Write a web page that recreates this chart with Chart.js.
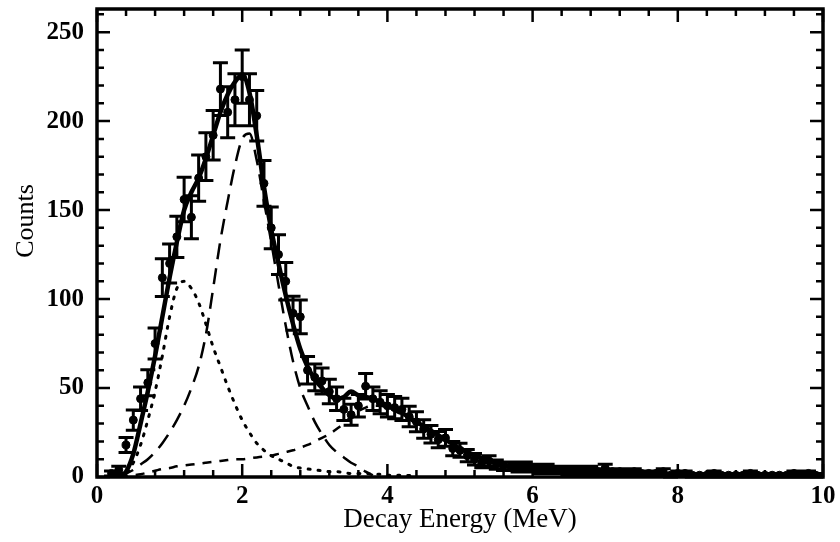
<!DOCTYPE html>
<html>
<head>
<meta charset="utf-8">
<script src="https://cdn.jsdelivr.net/npm/chart.js@4.4.0/dist/chart.umd.min.js"></script>
<style>
  html, body { margin: 0; padding: 0; background: #fff; }
  #wrap { width: 840px; height: 542px; }
</style>
</head>
<body>
<div id="wrap"><canvas id="myChart" width="840" height="542"></canvas></div>
<script>
// measured spectrum (0.1 MeV bins)
const energies = [0.2, 0.3, 0.4, 0.5, 0.6, 0.7, 0.8, 0.9, 1.0, 1.1, 1.2, 1.3, 1.4, 1.5, 1.6, 1.7, 1.8, 1.9, 2.0,
  2.1, 2.2, 2.3, 2.4, 2.5, 2.6, 2.7, 2.8, 2.9, 3.0, 3.1, 3.2, 3.3, 3.4, 3.5, 3.6, 3.7, 3.8, 3.9, 4.0,
  4.1, 4.2, 4.3, 4.4, 4.5, 4.6, 4.7, 4.8, 4.9, 5.0, 5.1, 5.2, 5.3, 5.4, 5.5, 5.6, 5.7, 5.8, 5.9, 6.0,
  6.1, 6.2, 6.3, 6.4, 6.5, 6.6, 6.7, 6.8, 6.9, 7.0, 7.1, 7.2, 7.3, 7.4, 7.5, 7.6, 7.7, 7.8, 7.9, 8.0,
  8.1, 8.2, 8.3, 8.4, 8.5, 8.6, 8.7, 8.8, 8.9, 9.0, 9.1, 9.2, 9.3, 9.4, 9.5, 9.6, 9.7, 9.8, 9.9];
const counts = [2, 4, 18, 32, 44, 53, 75, 112, 120, 135, 156, 146, 168, 180, 192, 218, 205, 212, 225,
  212, 203, 165, 140, 125, 110, 92, 90, 60, 56, 54, 48, 44, 38, 35, 40, 51, 44, 42, 40,
  39, 38, 34, 31, 27, 24, 21, 22, 16, 15, 12, 10, 8, 9, 7, 6, 6, 5, 6, 5,
  4, 5, 4, 4, 3, 4, 3, 4, 3, 5, 3, 3, 2, 3, 2, 2, 2, 3, 1, 2,
  2, 1, 1, 1, 2, 1, 1, 1, 1, 2, 1, 1, 1, 1, 1, 2, 1, 2, 1];
const countErrors = [1.4, 2, 4.2, 5.7, 6.6, 7.3, 8.7, 10.6, 11, 11.6, 12.5, 12.1, 13, 13.4, 13.9, 14.8, 14.3, 14.6, 15,
  14.6, 14.2, 12.8, 11.8, 11.2, 10.5, 9.6, 9.5, 7.7, 7.5, 7.3, 6.9, 6.6, 6.2, 5.9, 6.3, 7.1, 6.6, 6.5, 6.3,
  6.2, 6.2, 5.8, 5.6, 5.2, 4.9, 4.6, 4.7, 4, 3.9, 3.5, 3.2, 2.8, 3, 2.6, 2.4, 2.4, 2.2, 2.4, 2.2,
  2, 2.2, 2, 2, 1.7, 2, 1.7, 2, 1.7, 2.2, 1.7, 1.7, 1.4, 1.7, 1.4, 1.4, 1.4, 1.7, 1, 1.4,
  1.4, 1, 1, 1, 1.4, 1, 1, 1, 1, 1.4, 1, 1, 1, 1, 1, 1.4, 1, 1.4, 1];

// fit curves, sampled on a common energy grid
const fitEnergies = [0.3, 0.4, 0.5, 0.6, 0.7, 0.8, 0.9, 1.0, 1.1, 1.2, 1.3, 1.4, 1.5, 1.6, 1.7, 1.8, 1.9, 2.0,
  2.1, 2.2, 2.3, 2.4, 2.5, 2.6, 2.7, 2.8, 2.9, 3.0, 3.1, 3.2, 3.3, 3.4, 3.5, 3.6, 3.7, 3.8, 3.9, 4.0,
  4.2, 4.4, 4.6, 4.8, 5.0, 5.5, 6.0, 7.0, 8.0, 9.0, 10.0];
const totalFit = [0, 3, 13, 30, 48, 68, 90, 112, 132, 150, 160, 168, 179, 192, 205, 215, 222, 226,
  216, 192, 163, 139, 120, 102, 86, 72, 62, 55, 50, 46, 44, 45, 48, 46, 45, 44, 42, 40,
  36, 31, 26, 21, 16, 8, 4, 2, 1, 0.6, 0.4];
const peakTwoMeV = [0, 2, 4, 7, 10, 14, 19, 25, 32, 40, 50, 62, 80, 106, 133, 155, 175, 190,
  193, 178, 155, 132, 108, 85, 65, 50, 40, 31, 24, 18, 14, 11, 8, 6, 3, 1, null, null,
  null, null, null, null, null, null, null, null, null, null, null];
const peakOneMeV = [0, 2, 8, 18, 32, 48, 68, 90, 106, 110, 106, 98, 86, 73, 62, 51, 41, 32,
  25, 19, 15, 12, 10, 8, 6, 5, 4.5, 4, 3.5, 3, 3, 2.5, 2, 2, 2, 1.5, 1.5, 1,
  1, 0.5, null, null, null, null, null, null, null, null, null];
const broadComponent = [0, 0.5, 1, 1.5, 2.5, 3.5, 4.5, 5, 6, 6.5, 7, 7.5, 8, 8.5, 9, 9.5, 10, 10,
  10.5, 11, 11.5, 12, 13, 14, 15, 16.5, 18, 20, 22, 24, 27, 30, 34, 37, 39, 40, 40, 39,
  35, 30, 25, 20, 16, 8, 4, 2, 1, 0.6, 0.4];

const xTicks = [0, 2, 4, 6, 8, 10];
const yTicks = [0, 50, 100, 150, 200, 250];
const xMinorStep = 0.4;
const yMinorStep = 10;
const yMax = 263;

function pairs(xs, ys) {
  return xs.map((x, i) => ({x: x, y: ys[i]}));
}

const errorBars = {
  id: 'errorBars',
  afterDatasetsDraw(chart) {
    const ctx = chart.ctx;
    const x = chart.scales.x;
    const y = chart.scales.y;
    ctx.save();
    ctx.strokeStyle = '#000';
    ctx.lineWidth = 3;
    ctx.beginPath();
    for (let i = 0; i < energies.length; i++) {
      const px = x.getPixelForValue(energies[i]);
      const top = y.getPixelForValue(Math.min(counts[i] + countErrors[i], yMax));
      const bot = y.getPixelForValue(Math.max(counts[i] - countErrors[i], 0));
      ctx.moveTo(px, top); ctx.lineTo(px, bot);
      ctx.moveTo(px - 7.5, top); ctx.lineTo(px + 7.5, top);
      ctx.moveTo(px - 7.5, bot); ctx.lineTo(px + 7.5, bot);
    }
    ctx.stroke();
    ctx.restore();
  }
};

const frameAndTicks = {
  id: 'frameAndTicks',
  afterDraw(chart) {
    const ctx = chart.ctx;
    const a = chart.chartArea;
    const x = chart.scales.x;
    const y = chart.scales.y;
    ctx.save();
    ctx.strokeStyle = '#000';
    ctx.lineWidth = 3.5;
    ctx.strokeRect(a.left, a.top, a.right - a.left, a.bottom - a.top);
    ctx.lineWidth = 2.5;
    ctx.beginPath();
    for (let i = 0; i * xMinorStep <= 10.001; i++) {
      const px = x.getPixelForValue(i * xMinorStep);
      const len = i % 5 === 0 ? 13 : 7;
      ctx.moveTo(px, a.bottom); ctx.lineTo(px, a.bottom - len);
      ctx.moveTo(px, a.top); ctx.lineTo(px, a.top + len);
    }
    for (let i = 0; i * yMinorStep <= yMax; i++) {
      const py = y.getPixelForValue(i * yMinorStep);
      const len = i % 5 === 0 ? 13 : 7;
      ctx.moveTo(a.left, py); ctx.lineTo(a.left + len, py);
      ctx.moveTo(a.right, py); ctx.lineTo(a.right - len, py);
    }
    ctx.stroke();
    // y axis title
    ctx.translate(26, 221);
    ctx.rotate(-Math.PI / 2);
    ctx.fillStyle = '#000';
    ctx.font = '26px "Liberation Serif", serif';
    ctx.textAlign = 'center';
    ctx.textBaseline = 'middle';
    ctx.fillText('Counts', 0, 0);
    ctx.restore();
  }
};

const ctx = document.getElementById('myChart').getContext('2d');

new Chart(ctx, {
  type: 'scatter',
  data: {
    datasets: [
      {
        label: 'Data',
        data: pairs(energies, counts),
        backgroundColor: '#000',
        borderColor: '#000',
        pointRadius: 4,
        pointHoverRadius: 4,
        order: 5
      },
      {
        type: 'line',
        label: 'Total fit',
        data: pairs(fitEnergies, totalFit),
        borderColor: '#000',
        borderWidth: 4.5,
        pointRadius: 0,
        cubicInterpolationMode: 'monotone',
        fill: false,
        order: 1
      },
      {
        type: 'line',
        label: '2 MeV peak',
        data: pairs(fitEnergies, peakTwoMeV),
        borderColor: '#000',
        borderWidth: 2.5,
        borderDash: [16, 9],
        pointRadius: 0,
        cubicInterpolationMode: 'monotone',
        spanGaps: false,
        fill: false,
        order: 2
      },
      {
        type: 'line',
        label: '1 MeV peak',
        data: pairs(fitEnergies, peakOneMeV),
        borderColor: '#000',
        borderWidth: 3,
        borderDash: [2, 8],
        borderCapStyle: 'round',
        pointRadius: 0,
        cubicInterpolationMode: 'monotone',
        spanGaps: false,
        fill: false,
        order: 3
      },
      {
        type: 'line',
        label: 'Broad component',
        data: pairs(fitEnergies, broadComponent),
        borderColor: '#000',
        borderWidth: 2.5,
        borderDash: [9, 8],
        pointRadius: 0,
        cubicInterpolationMode: 'monotone',
        fill: false,
        order: 4
      }
    ]
  },
  options: {
    responsive: false,
    animation: false,
    layout: { padding: { top: 9, right: 17, left: 0, bottom: 0 } },
    plugins: {
      legend: { display: false },
      tooltip: { enabled: false }
    },
    scales: {
      x: {
        type: 'linear',
        min: 0,
        max: 10,
        afterFit(scale) {
          scale.height = 65;
          scale.paddingLeft = 0;
          scale.paddingRight = 0;
        },
        afterBuildTicks(scale) { scale.ticks = xTicks.map(v => ({value: v})); },
        grid: { display: false, drawTicks: false },
        border: { display: false },
        ticks: {
          color: '#000',
          padding: 5,
          maxRotation: 0,
          font: { family: '"Liberation Serif", serif', size: 25, weight: 'bold' }
        },
        title: {
          display: true,
          text: 'Decay Energy (MeV)',
          color: '#000',
          padding: { top: 0, bottom: 6 },
          font: { family: '"Liberation Serif", serif', size: 27 }
        }
      },
      y: {
        type: 'linear',
        min: 0,
        max: yMax,
        afterFit(scale) {
          scale.width = 97;
          scale.paddingTop = 0;
          scale.paddingBottom = 0;
        },
        afterBuildTicks(scale) { scale.ticks = yTicks.map(v => ({value: v})); },
        grid: { display: false, drawTicks: false },
        border: { display: false },
        ticks: {
          color: '#000',
          padding: 13,
          font: { family: '"Liberation Serif", serif', size: 25, weight: 'bold' }
        }
      }
    }
  },
  plugins: [errorBars, frameAndTicks]
});
</script>
</body>
</html>
